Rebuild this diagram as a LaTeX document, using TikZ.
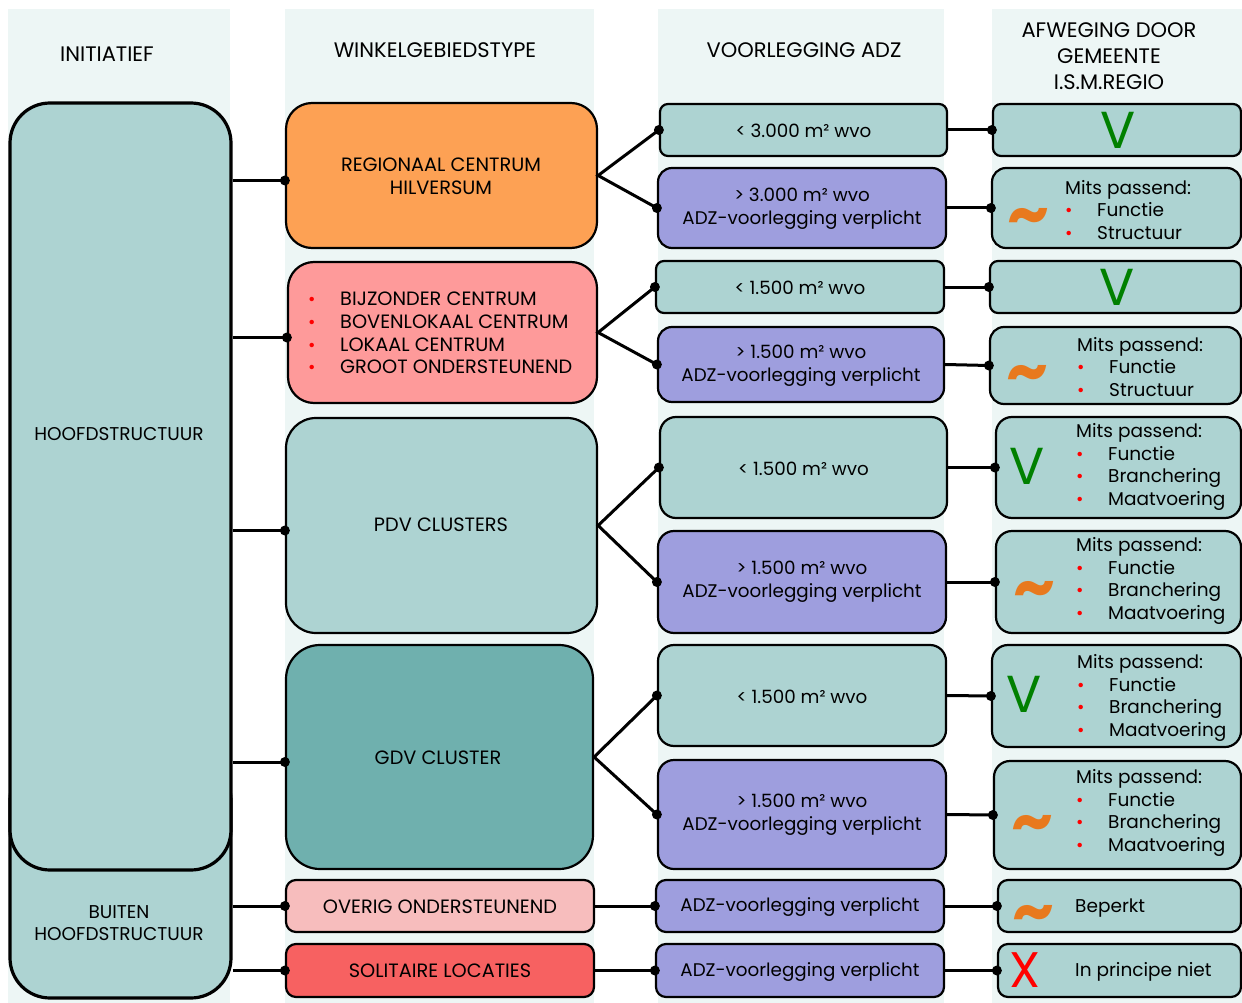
\documentclass[tikz,border=0pt]{standalone}
\usepackage{fontspec}
\setmainfont{Poppins}
\definecolor{colbg}{HTML}{EDF6F5}
\definecolor{tealbox}{HTML}{ADD3D2}
\definecolor{purplebox}{HTML}{9E9EDE}
\definecolor{orangebox}{HTML}{FDA154}
\definecolor{pinkbox}{HTML}{FE9A9A}
\definecolor{lpinkbox}{HTML}{F7BDBD}
\definecolor{redbox}{HTML}{F76161}
\definecolor{gdvbox}{HTML}{6FB0AE}
\definecolor{vgreen}{HTML}{008000}
\definecolor{tildeorange}{HTML}{E8791E}
\definecolor{bulred}{HTML}{FF0000}
\newcommand\bul{\makebox[32pt][l]{\hspace{0pt}\textcolor{bulred}{\fontsize{18}{10}\selectfont •}}}
\begin{document}
\begin{tikzpicture}[x=1pt,y=-1pt,
  colbgs/.style={fill=colbg,draw=none},
  box/.style={draw=black,line width=2.2pt,rounded corners=12pt,inner sep=0pt,align=center},
  bigbox/.style={box,rounded corners=26pt},
  hbox/.style={draw=black,line width=3.2pt,rounded corners=40pt,inner sep=0pt,fill=tealbox},
  capt/.style={font=\fontsize{19.3}{22.7}\selectfont,align=center,inner sep=0pt},
  hdr/.style={font=\fontsize{21}{26}\selectfont,align=center,inner sep=0pt},
  lowt/.style={font=\fontsize{18.3}{22.7}\selectfont,align=center,inner sep=0pt},
  listt/.style={font=\fontsize{18.5}{22.7}\selectfont,align=left,anchor=west,inner sep=0pt},
  vmark/.style={font=\fontsize{52}{52}\selectfont,text=vgreen,inner sep=0pt},
  xmark/.style={font=\fontsize{50}{50}\selectfont,text=bulred,inner sep=0pt},
  tmark/.style={font=\fontsize{66}{66}\selectfont\bfseries,text=tildeorange,inner sep=0pt},
  conn/.style={line width=3pt},
  dot/.style={fill=black}
]
\useasboundingbox (0,0) rectangle (1242,1003);
\clip (0,0) rectangle (1242,1003);
% column backgrounds
\fill[colbgs] (8,9) rectangle (230,1003);
\fill[colbgs] (285,9) rectangle (594,1003);
\fill[colbgs] (658,9) rectangle (944,1003);
\fill[colbgs] (992,9) rectangle (1242,1003);
% headers
\node[hdr] (hd1) at (107,54) {INITIATIEF};
\node[hdr] (hd2) at (435,50) {WINKELGEBIEDSTYPE};
\node[hdr] (hd3) at (804,50) {VOORLEGGING ADZ};
\node[hdr] (hd4) at (1109,56) {AFWEGING DOOR\\GEMEENTE\\I.S.M.REGIO};
% column 1
\node[hbox,minimum width=221pt,minimum height=238pt] (b) at (120.5,879) {};
\node[hbox,minimum width=221pt,minimum height=767pt] (h) at (120.5,486.5) {};
\node[capt,font=\fontsize{18.5}{22.7}\selectfont] (htxt) at (119,434) {HOOFDSTRUCTUUR};
\node[capt,font=\fontsize{18.5}{22.7}\selectfont] (btxt) at (119,923) {BUITEN\\HOOFDSTRUCTUUR};
% column 2
\node[bigbox,fill=orangebox,minimum width=311pt,minimum height=145pt] (r) at (441.5,175.5) {};
\node[capt] (rtxt) at (441,176) {REGIONAAL CENTRUM\\HILVERSUM};
\node[bigbox,fill=pinkbox,minimum width=309pt,minimum height=141pt] (bz) at (442.5,332.5) {};
\node[capt,align=left,anchor=west] (bztxt) at (308,333) {\bul BIJZONDER CENTRUM\\\bul BOVENLOKAAL CENTRUM\\\bul LOKAAL CENTRUM\\\bul GROOT ONDERSTEUNEND};
\node[bigbox,rounded corners=30pt,fill=tealbox,minimum width=311pt,minimum height=215pt] (pdv) at (441.5,525.5) {};
\node[capt] (pdvtxt) at (441,525) {PDV CLUSTERS};
\node[bigbox,rounded corners=34pt,fill=gdvbox,minimum width=307pt,minimum height=224pt] (gdv) at (439.5,757) {};
\node[capt] (gdvtxt) at (438,758) {GDV CLUSTER};
\node[box,rounded corners=10pt,fill=lpinkbox,minimum width=308pt,minimum height=52pt] (ov) at (440,906) {};
\node[capt] (ovtxt) at (440,907) {OVERIG ONDERSTEUNEND};
\node[box,rounded corners=10pt,fill=redbox,minimum width=308pt,minimum height=53pt] (so) at (440,970.5) {};
\node[capt] (sotxt) at (440,971) {SOLITAIRE LOCATIES};
% column 3
\node[box,rounded corners=8pt,fill=tealbox,minimum width=287pt,minimum height=52pt] (a1) at (803.5,130) {};
\node[lowt] (a1t) at (803.5,131) {< 3.000 m² wvo};
\node[box,rounded corners=14pt,fill=purplebox,minimum width=288pt,minimum height=80pt] (a2) at (802,208) {};
\node[lowt] (a2t) at (802,209) {> 3.000 m² wvo\\ADZ-voorlegging verplicht};
\node[box,rounded corners=8pt,fill=tealbox,minimum width=288pt,minimum height=52pt] (b1) at (800,287) {};
\node[lowt] (b1t) at (800,288) {< 1.500 m² wvo};
\node[box,rounded corners=14pt,fill=purplebox,minimum width=286pt,minimum height=75pt] (b2) at (801,364.5) {};
\node[lowt] (b2t) at (801,366) {> 1.500 m² wvo\\ADZ-voorlegging verplicht};
\node[box,rounded corners=16pt,fill=tealbox,minimum width=287pt,minimum height=101pt] (c1) at (803.5,467.5) {};
\node[lowt] (c1t) at (803.5,468.5) {< 1.500 m² wvo};
\node[box,rounded corners=16pt,fill=purplebox,minimum width=288pt,minimum height=102pt] (c2) at (802,582) {};
\node[lowt] (c2t) at (802,582) {> 1.500 m² wvo\\ADZ-voorlegging verplicht};
\node[box,rounded corners=16pt,fill=tealbox,minimum width=288pt,minimum height=101pt] (d1) at (802,695.5) {};
\node[lowt] (d1t) at (802,696.5) {< 1.500 m² wvo};
\node[box,rounded corners=16pt,fill=purplebox,minimum width=288pt,minimum height=109pt] (d2) at (802,814.5) {};
\node[lowt] (d2t) at (802,815) {> 1.500 m² wvo\\ADZ-voorlegging verplicht};
\node[box,rounded corners=10pt,fill=purplebox,minimum width=288pt,minimum height=52pt] (e1) at (800,906) {};
\node[lowt] (e1t) at (800,907) {ADZ-voorlegging verplicht};
\node[box,rounded corners=10pt,fill=purplebox,minimum width=288pt,minimum height=53pt] (f1) at (800,970.5) {};
\node[lowt] (f1t) at (800,971.5) {ADZ-voorlegging verplicht};
% column 4
\node[box,rounded corners=8pt,fill=tealbox,minimum width=248pt,minimum height=52pt] (A1) at (1117,130) {};
\node[vmark] (A1v) at (1118,130) {V};
\node[box,rounded corners=14pt,fill=tealbox,minimum width=249pt,minimum height=80pt] (A2) at (1116.5,208) {};
\node[tmark] (A2s) at (1028,222) {\textasciitilde};
\node[listt] (A2t) at (1065,210) {Mits passend:\\\bul Functie\\\bul Structuur};
\node[box,rounded corners=8pt,fill=tealbox,minimum width=251pt,minimum height=52pt] (B1) at (1115.5,287) {};
\node[vmark] (B1v) at (1117,287) {V};
\node[box,rounded corners=14pt,fill=tealbox,minimum width=251pt,minimum height=77pt] (B2) at (1115.5,365.5) {};
\node[tmark] (B2s) at (1027,379) {\textasciitilde};
\node[listt] (B2t) at (1077,367) {Mits passend:\\\bul Functie\\\bul Structuur};
\node[box,rounded corners=16pt,fill=tealbox,minimum width=245pt,minimum height=101pt] (C1) at (1118.5,467.5) {};
\node[vmark] (C1v) at (1027,466) {V};
\node[listt] (C1t) at (1076,467) {Mits passend:\\\bul Functie\\\bul Branchering\\\bul Maatvoering};
\node[box,rounded corners=16pt,fill=tealbox,minimum width=245pt,minimum height=102pt] (C2) at (1118.5,582) {};
\node[tmark] (C2s) at (1034,595) {\textasciitilde};
\node[listt] (C2t) at (1076,581) {Mits passend:\\\bul Functie\\\bul Branchering\\\bul Maatvoering};
\node[box,rounded corners=16pt,fill=tealbox,minimum width=249pt,minimum height=102pt] (D1) at (1116.5,696) {};
\node[vmark] (D1v) at (1024,694) {V};
\node[listt] (D1t) at (1077,698) {Mits passend:\\\bul Functie\\\bul Branchering\\\bul Maatvoering};
\node[box,rounded corners=16pt,fill=tealbox,minimum width=247pt,minimum height=108pt] (D2) at (1117.5,815) {};
\node[tmark] (D2s) at (1032,829) {\textasciitilde};
\node[listt] (D2t) at (1076,813) {Mits passend:\\\bul Functie\\\bul Branchering\\\bul Maatvoering};
\node[box,rounded corners=10pt,fill=tealbox,minimum width=243pt,minimum height=52pt] (E1) at (1119.5,906) {};
\node[tmark] (E1s) at (1033,919) {\textasciitilde};
\node[listt] (E1t) at (1075,908) {Beperkt};
\node[box,rounded corners=10pt,fill=tealbox,minimum width=243pt,minimum height=53pt] (F1) at (1119.5,970.5) {};
\node[xmark] (F1x) at (1025,970) {X};
\node[listt] (F1t) at (1075,972) {In principe niet};
% connectors column 1 -> 2
\foreach \n in {r,bz,pdv,gdv} {
  \draw[conn] ([yshift=-5pt]\n.west -| h.east) -- ([yshift=-5pt]\n.west);
  \fill[dot] ([yshift=-5pt]\n.west) circle (5pt);}
\foreach \n in {ov,so} {\draw[conn] (\n.west -| b.east) -- (\n.west);}
% fans column 2 -> 3
\draw[conn,line join=miter] (a1.west) -- (r.east) -- (a2.west);
\draw[conn,line join=miter] (b1.west) -- (bz.east) -- (b2.west);
\draw[conn,line join=miter] (c1.west) -- (pdv.east) -- (c2.west);
\draw[conn,line join=miter] (d1.west) -- (gdv.east) -- (d2.west);
\draw[conn] (ov.east) -- (ov.east -| e1.west);
\draw[conn] (so.east) -- (so.east -| f1.west);
% column 3 -> 4
\draw[conn] (a1.east) -- (A1.west);
\draw[conn] (a2.east) -- (A2.west);
\draw[conn] (b1.east) -- (B1.west);
\draw[conn] (b2.east) -- (B2.west);
\draw[conn] (c1.east) -- (C1.west);
\draw[conn] (c2.east) -- (C2.west);
\draw[conn] (d1.east) -- (D1.west);
\draw[conn] (d2.east) -- (D2.west);
\draw[conn] (e1.east) -- (E1.west);
\draw[conn] (f1.east) -- (F1.west);
% dots
\foreach \p in {ov.west,so.west,a1.west,a2.west,b1.west,b2.west,c1.west,c2.west,d1.west,d2.west,e1.west,f1.west,A1.west,A2.west,B1.west,B2.west,C1.west,C2.west,D1.west,D2.west,E1.west,F1.west}
  {\fill[dot] (\p) circle (5pt);}
\end{tikzpicture}
\end{document}
